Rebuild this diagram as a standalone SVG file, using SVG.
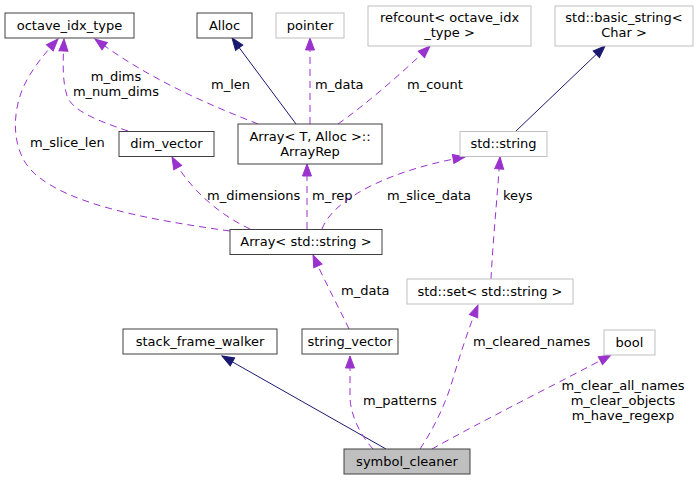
<svg xmlns="http://www.w3.org/2000/svg" width="699" height="480" viewBox="0 0 699 480">
<style>
text{font-family:"DejaVu Sans","Liberation Sans",sans-serif;font-size:13px;fill:#000}
.c{text-anchor:middle}
.nb{fill:#fff;stroke:#404040;stroke-width:1}
.ng{fill:#fff;stroke:#bfbfbf;stroke-width:1}
.nf{fill:#bfbfbf;stroke:#404040;stroke-width:1}
.inh{fill:none;stroke:#191970;stroke-width:1}
.use{fill:none;stroke:#9a32cd;stroke-width:1;stroke-dasharray:7,5}
</style>
<defs>
<marker id="ai" markerUnits="userSpaceOnUse" markerWidth="14" markerHeight="12" viewBox="0 0 14 12" refX="12" refY="5" orient="auto" overflow="visible"><path d="M0,0.5 L12,5 L0,9.5 z" fill="#191970" stroke="#191970" stroke-width="1"/></marker>
<marker id="au" markerUnits="userSpaceOnUse" markerWidth="14" markerHeight="12" viewBox="0 0 14 12" refX="12" refY="5" orient="auto" overflow="visible"><path d="M0,0.5 L12,5 L0,9.5 z" fill="#9a32cd" stroke="#9a32cd" stroke-width="1"/></marker>
</defs>
<rect width="699" height="480" fill="#fff"/>
<g id="edges">
<path class="inh" marker-end="url(#ai)" d="M386,449 L222,356"/>
<path class="use" marker-end="url(#au)" d="M373,449 C362,437 351,418 350,398 C350,385 350,372 350,356"/>
<text x="363" y="405">m_patterns</text>
<path class="use" marker-end="url(#au)" d="M420,449 C434,428 445,405 452,382 C460,355 468,330 478,305"/>
<text x="473" y="346">m_cleared_names</text>
<path class="use" marker-end="url(#au)" d="M432,449 C480,422 560,382 611,355"/>
<text class="c" x="623" y="390">m_clear_all_names</text>
<text class="c" x="623" y="405">m_clear_objects</text>
<text class="c" x="623" y="420">m_have_regexp</text>
<path class="use" marker-end="url(#au)" d="M349,329 C340,310 325,282 313,255"/>
<text x="341" y="295">m_data</text>
<path class="use" marker-end="url(#au)" d="M491,279 C493,240 497,200 500,157"/>
<text x="503" y="200">keys</text>
<path class="use" marker-end="url(#au)" d="M230,231 C150,220 70,205 35,174 C8,150 12,105 28,78 C36,64 46,52 58,39"/>
<text x="30" y="147">m_slice_len</text>
<path class="use" marker-end="url(#au)" d="M250,229 C220,215 190,190 172,157"/>
<text x="207" y="200">m_dimensions</text>
<path class="use" marker-end="url(#au)" d="M307,229 L307,164"/>
<text x="312" y="200">m_rep</text>
<path class="use" marker-end="url(#au)" d="M322,229 C335,195 400,168 465,157"/>
<text x="387" y="200">m_slice_data</text>
<path class="use" marker-end="url(#au)" d="M258,124 C210,105 150,80 95,39"/>
<text x="211" y="89">m_len</text>
<path class="inh" marker-end="url(#ai)" d="M296,124 L232,38"/>
<path class="use" marker-end="url(#au)" d="M310,124 L310,38"/>
<text x="315" y="89">m_data</text>
<path class="use" marker-end="url(#au)" d="M338,124 C365,105 400,75 430,46"/>
<text x="407" y="89">m_count</text>
<path class="use" marker-end="url(#au)" d="M128,131 C95,120 72,110 67,96 C62,80 63,60 64,39"/>
<text class="c" x="116" y="81">m_dims</text>
<text class="c" x="116" y="96">m_num_dims</text>
<path class="inh" marker-end="url(#ai)" d="M516,131 L605,46"/>
</g>
<g id="octave_idx_type"><rect class="nb" x="5" y="13" width="129" height="25"/><text class="c" x="69.5" y="30">octave_idx_type</text></g>
<g id="Alloc"><rect class="nb" x="197" y="13" width="55" height="25"/><text class="c" x="224.5" y="30">Alloc</text></g>
<g id="pointer"><rect class="ng" x="276" y="13" width="68" height="25"/><text class="c" x="310" y="30">pointer</text></g>
<g id="refcount"><rect class="ng" x="368" y="6" width="163" height="40"/><text class="c" x="449.5" y="22">refcount&lt; octave_idx</text><text class="c" x="449.5" y="37">_type &gt;</text></g>
<g id="basic_string"><rect class="ng" x="555" y="6" width="138" height="40"/><text class="c" x="624" y="22">std::basic_string&lt;</text><text class="c" x="624" y="37">Char &gt;</text></g>
<g id="dim_vector"><rect class="nb" x="119" y="131.5" width="95" height="25"/><text class="c" x="166.5" y="148">dim_vector</text></g>
<g id="ArrayRep"><rect class="nb" x="238" y="124" width="144" height="40"/><text class="c" x="310" y="140.5">Array&lt; T, Alloc &gt;::</text><text class="c" x="310" y="155.5">ArrayRep</text></g>
<g id="std_string"><rect class="ng" x="460" y="131.5" width="87" height="25"/><text class="c" x="503.5" y="148">std::string</text></g>
<g id="Array_string"><rect class="nb" x="230" y="229.5" width="152" height="25"/><text class="c" x="306" y="246">Array&lt; std::string &gt;</text></g>
<g id="std_set"><rect class="ng" x="407" y="279" width="166" height="25"/><text class="c" x="490" y="296">std::set&lt; std::string &gt;</text></g>
<g id="stack_frame_walker"><rect class="nb" x="123" y="329" width="154" height="25"/><text class="c" x="200" y="346">stack_frame_walker</text></g>
<g id="string_vector"><rect class="nb" x="302" y="329" width="96" height="25"/><text class="c" x="350" y="346">string_vector</text></g>
<g id="bool"><rect class="ng" x="604" y="330" width="51" height="25"/><text class="c" x="629.5" y="347">bool</text></g>
<g id="symbol_cleaner"><rect class="nf" x="344" y="449" width="126" height="25"/><text class="c" x="407" y="466">symbol_cleaner</text></g>
</svg>
